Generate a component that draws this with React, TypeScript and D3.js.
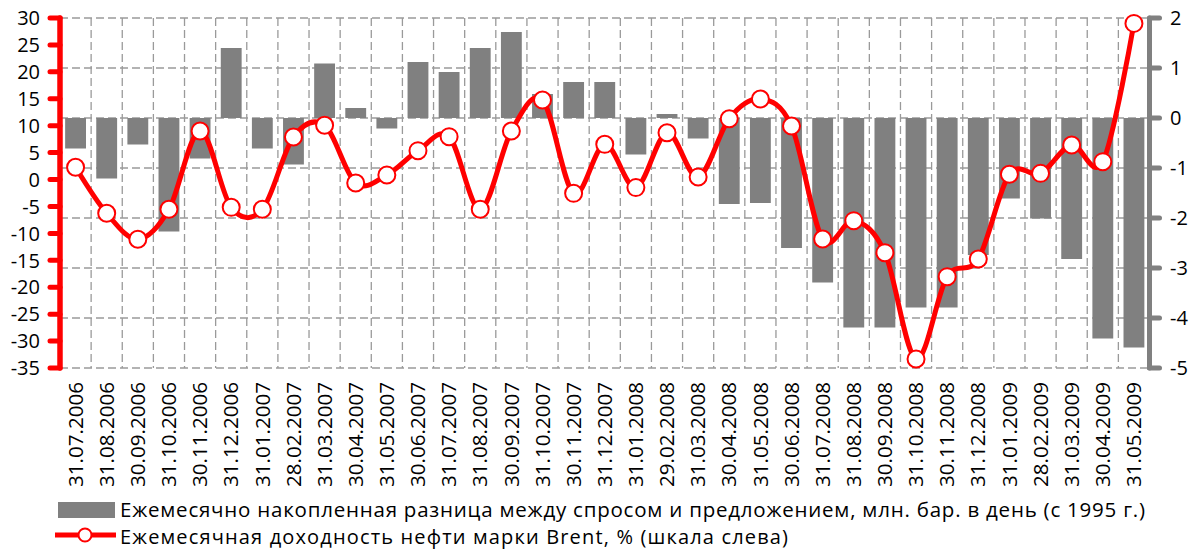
import React from "react";
import * as d3 from "d3";

const categories = [
  "31.07.2006","31.08.2006","30.09.2006","31.10.2006","30.11.2006","31.12.2006",
  "31.01.2007","28.02.2007","31.03.2007","30.04.2007","31.05.2007","30.06.2007",
  "31.07.2007","31.08.2007","30.09.2007","31.10.2007","30.11.2007","31.12.2007",
  "31.01.2008","29.02.2008","31.03.2008","30.04.2008","31.05.2008","30.06.2008",
  "31.07.2008","31.08.2008","30.09.2008","31.10.2008","30.11.2008","31.12.2008",
  "31.01.2009","28.02.2009","31.03.2009","30.04.2009","31.05.2009",
];

// Bars: right axis (млн. бар. в день)
const barValues = [
  -0.61, -1.21, -0.53, -2.27, -0.81, 1.4, -0.61, -0.93, 1.09, 0.2, -0.21, 1.12,
  0.92, 1.4, 1.72, 0.48, 0.72, 0.72, -0.73, 0.08, -0.41, -1.72, -1.7, -2.6,
  -3.29, -4.19, -4.19, -3.79, -3.79, -2.74, -1.61, -2.01, -2.82, -4.41, -4.59,
];

// Line: left axis (%)
const lineValues = [
  2.27, -6.27, -11.1, -5.53, 9.01, -5.16, -5.53, 7.9, 10.07, -0.64, 0.84, 5.36,
  7.96, -5.53, 9.01, 14.77, -2.56, 6.54, -1.5, 8.7, 0.47, 11.3, 14.96, 9.94,
  -11.04, -7.64, -13.58, -33.33, -18.04, -14.76, 0.97, 1.15, 6.41, 3.32, 29.0,
];

const leftTicks = [30, 25, 20, 15, 10, 5, 0, -5, -10, -15, -20, -25, -30, -35];
const rightTicks = [2, 1, 0, -1, -2, -3, -4, -5];

const legendBar = "Ежемесячно накопленная разница между спросом и предложением, млн. бар. в день (с 1995 г.)";
const legendLine = "Ежемесячная доходность нефти марки Brent, % (шкала слева)";

const W = 1194;
const H = 551;
const X0 = 60;
const X1 = 1149.5;
const Y0 = 18;
const Y1 = 368;
const FONT = "'Open Sans', sans-serif";

export default function App() {
  const x = d3.scaleBand<string>().domain(categories).range([X0, X1]).padding(0);
  const bw = x.bandwidth();
  const yL = d3.scaleLinear().domain([-35, 30]).range([Y1, Y0]);
  const yR = d3.scaleLinear().domain([-5, 2]).range([Y1, Y0]);
  const barW = bw * 0.67;

  const pts: [number, number][] = categories.map((c, i) => [
    (x(c) as number) + bw / 2,
    yL(lineValues[i]),
  ]);
  const lineGen = d3.line<[number, number]>().curve(d3.curveCardinal.tension(0));
  const path = lineGen(pts) || "";

  return (
    <svg
      width={W}
      height={H}
      style={{ position: "absolute", left: 0, top: 0, background: "#fff" }}
      fontFamily={FONT}
    >
      {/* horizontal grid */}
      {rightTicks.map((t) => (
        <line
          key={"hg" + t}
          x1={X0}
          x2={X1}
          y1={yR(t)}
          y2={yR(t)}
          stroke="#9a9a9a"
          strokeWidth={1.3}
          strokeDasharray="8,4"
        />
      ))}
      {/* vertical grid */}
      {categories.map((c, i) => (
        <line
          key={"vg" + i}
          x1={(x(c) as number) + bw}
          x2={(x(c) as number) + bw}
          y1={Y0}
          y2={Y1}
          stroke="#9a9a9a"
          strokeWidth={1.3}
          strokeDasharray="8,4"
        />
      ))}
      {/* bars */}
      {categories.map((c, i) => {
        const v = barValues[i];
        const y0 = yR(0);
        const yv = yR(v);
        return (
          <rect
            key={"b" + i}
            x={(x(c) as number) + (bw - barW) / 2}
            y={Math.min(y0, yv)}
            width={barW}
            height={Math.abs(yv - y0)}
            fill="#808080"
          />
        );
      })}
      {/* line */}
      <path d={path} fill="none" stroke="#ff0000" strokeWidth={5} strokeLinejoin="round" />
      {pts.map((p, i) => (
        <circle key={"m" + i} cx={p[0]} cy={p[1]} r={8.5} fill="#fff" stroke="#ff0000" strokeWidth={2} />
      ))}
      {/* left axis */}
      <line x1={X0} x2={X0} y1={Y0} y2={Y1} stroke="#ff0000" strokeWidth={5.5} strokeLinecap="round" />
      {leftTicks.map((t) => (
        <g key={"lt" + t}>
          <line x1={X0 - 10} x2={X0} y1={yL(t)} y2={yL(t)} stroke="#ff0000" strokeWidth={5} strokeLinecap="round" />
          <text x={40} y={yL(t)} dy="0.36em" textAnchor="end" fontSize={20} fill="#000">
            {t}
          </text>
        </g>
      ))}
      {/* right axis */}
      <line x1={X1} x2={X1} y1={Y0} y2={Y1} stroke="#808080" strokeWidth={5} strokeLinecap="round" />
      {rightTicks.map((t) => (
        <g key={"rt" + t}>
          <line x1={X1} x2={X1 + 10} y1={yR(t)} y2={yR(t)} stroke="#808080" strokeWidth={5} strokeLinecap="round" />
          <text x={1170} y={yR(t)} dy="0.36em" textAnchor="start" fontSize={20} fill="#000">
            {t}
          </text>
        </g>
      ))}
      {/* x labels */}
      {categories.map((c) => (
        <text
          key={"xl" + c}
          transform={`translate(${(x(c) as number) + bw / 2},382) rotate(-90)`}
          dy="0.36em"
          textAnchor="end"
          fontSize={20}
          textLength={105}
          lengthAdjust="spacingAndGlyphs"
          fill="#000"
        >
          {c}
        </text>
      ))}
      {/* legend */}
      <rect x={58} y={502} width={57} height={16} fill="#808080" />
      <text x={120} y={517} fontSize={20.5} textLength={1025} lengthAdjust="spacing" fill="#000">
        {legendBar}
      </text>
      <line x1={55} x2={116} y1={535} y2={535} stroke="#ff0000" strokeWidth={5} />
      <circle cx={85} cy={535} r={6.5} fill="#fff" stroke="#ff0000" strokeWidth={2} />
      <text x={120} y={544} fontSize={20} textLength={668} lengthAdjust="spacing" fill="#000">
        {legendLine}
      </text>
    </svg>
  );
}
